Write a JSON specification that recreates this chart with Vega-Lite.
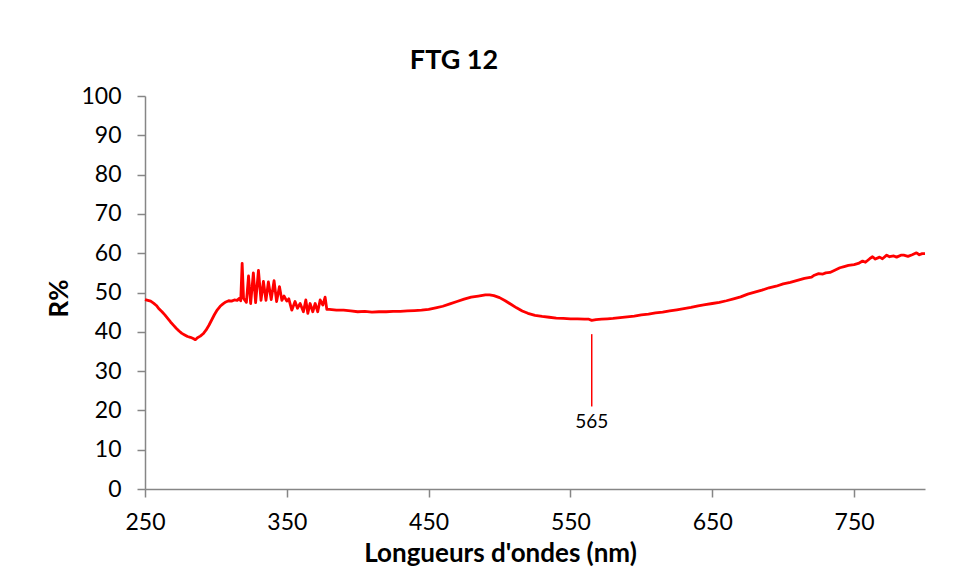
{
  "$schema": "https://vega.github.io/schema/vega-lite/v6.json",
  "autosize": "none",
  "width": 780,
  "height": 393,
  "padding": {"left": 145, "top": 96, "right": 30, "bottom": 92},
  "background": "white",
  "config": {
    "view": {"stroke": null},
    "font": "Lato",
    "axis": {
      "grid": false,
      "domainColor": "#868686",
      "domainWidth": 1.5,
      "tickColor": "#868686",
      "tickWidth": 1.5,
      "tickSize": 8,
      "labelFont": "Lato",
      "labelFontSize": 23,
      "labelColor": "#000000",
      "titleFont": "Lato",
      "titleFontSize": 26,
      "titleFontWeight": "bold",
      "titleColor": "#000000"
    }
  },
  "title": {
    "text": "FTG 12",
    "font": "Lato",
    "fontSize": 27,
    "fontWeight": "bold",
    "color": "#000000",
    "frame": "group",
    "anchor": "middle",
    "baseline": "alphabetic",
    "offset": -11,
    "dx": -81
  },
  "datasets": {
    "spectre": [
      {"nm": 250, "R": 48.2}, {"nm": 252, "R": 48.0}, {"nm": 254, "R": 47.8}, {"nm": 256, "R": 47.3},
      {"nm": 258, "R": 46.7}, {"nm": 260, "R": 45.8}, {"nm": 262, "R": 45.1}, {"nm": 264, "R": 44.3},
      {"nm": 266, "R": 43.4}, {"nm": 268, "R": 42.5}, {"nm": 270, "R": 41.7}, {"nm": 272, "R": 40.9},
      {"nm": 274, "R": 40.2}, {"nm": 276, "R": 39.6}, {"nm": 278, "R": 39.2}, {"nm": 280, "R": 38.8},
      {"nm": 282, "R": 38.6}, {"nm": 284, "R": 38.3}, {"nm": 285.5, "R": 38.0}, {"nm": 287, "R": 38.5},
      {"nm": 289, "R": 38.9}, {"nm": 291, "R": 39.5}, {"nm": 293, "R": 40.4}, {"nm": 295, "R": 41.6},
      {"nm": 297, "R": 43.0}, {"nm": 299, "R": 44.4}, {"nm": 301, "R": 45.6}, {"nm": 303, "R": 46.5},
      {"nm": 305, "R": 47.1}, {"nm": 307, "R": 47.6}, {"nm": 309, "R": 47.9}, {"nm": 311, "R": 47.8},
      {"nm": 313, "R": 48.1}, {"nm": 315, "R": 48.0}, {"nm": 316.5, "R": 48.5}, {"nm": 317.5, "R": 47.9},
      {"nm": 318.5, "R": 57.4}, {"nm": 319.5, "R": 48.5}, {"nm": 320.5, "R": 48.0}, {"nm": 321.5, "R": 47.5},
      {"nm": 323, "R": 54.2}, {"nm": 324.5, "R": 47.2}, {"nm": 326.4, "R": 55.0}, {"nm": 328, "R": 47.4},
      {"nm": 330, "R": 55.6}, {"nm": 331.8, "R": 48.0}, {"nm": 333.5, "R": 52.8}, {"nm": 335.3, "R": 48.0},
      {"nm": 337, "R": 52.7}, {"nm": 339, "R": 48.2}, {"nm": 341, "R": 53.0}, {"nm": 342.8, "R": 47.7},
      {"nm": 344.8, "R": 51.5}, {"nm": 346.5, "R": 48.0}, {"nm": 348, "R": 49.1}, {"nm": 350, "R": 47.8},
      {"nm": 351.4, "R": 48.4}, {"nm": 353.5, "R": 45.5}, {"nm": 355.8, "R": 47.7}, {"nm": 357.5, "R": 46.0},
      {"nm": 359.4, "R": 47.2}, {"nm": 361.7, "R": 45.1}, {"nm": 363.4, "R": 48.1}, {"nm": 364.8, "R": 44.7},
      {"nm": 366.4, "R": 47.2}, {"nm": 368.3, "R": 45.1}, {"nm": 370, "R": 47.2}, {"nm": 371.8, "R": 45.1},
      {"nm": 373.5, "R": 48.1}, {"nm": 375.4, "R": 46.8}, {"nm": 377, "R": 48.8}, {"nm": 378.2, "R": 45.7},
      {"nm": 380, "R": 45.7}, {"nm": 385, "R": 45.5}, {"nm": 390, "R": 45.5}, {"nm": 395, "R": 45.3},
      {"nm": 400, "R": 45.1}, {"nm": 405, "R": 45.2}, {"nm": 410, "R": 45.0}, {"nm": 415, "R": 45.1},
      {"nm": 420, "R": 45.1}, {"nm": 425, "R": 45.2}, {"nm": 430, "R": 45.2}, {"nm": 435, "R": 45.3},
      {"nm": 440, "R": 45.4}, {"nm": 445, "R": 45.5}, {"nm": 450, "R": 45.7}, {"nm": 455, "R": 46.1},
      {"nm": 460, "R": 46.5}, {"nm": 465, "R": 47.1}, {"nm": 470, "R": 47.7}, {"nm": 475, "R": 48.3},
      {"nm": 480, "R": 48.8}, {"nm": 485, "R": 49.1}, {"nm": 490, "R": 49.4}, {"nm": 493, "R": 49.4},
      {"nm": 496, "R": 49.2}, {"nm": 500, "R": 48.7}, {"nm": 504, "R": 47.9}, {"nm": 508, "R": 47.0},
      {"nm": 512, "R": 46.1}, {"nm": 516, "R": 45.3}, {"nm": 520, "R": 44.7}, {"nm": 525, "R": 44.2},
      {"nm": 530, "R": 43.9}, {"nm": 535, "R": 43.7}, {"nm": 540, "R": 43.5}, {"nm": 545, "R": 43.4},
      {"nm": 550, "R": 43.3}, {"nm": 555, "R": 43.3}, {"nm": 560, "R": 43.2}, {"nm": 563, "R": 43.2},
      {"nm": 565, "R": 42.9}, {"nm": 568, "R": 43.1}, {"nm": 572, "R": 43.2}, {"nm": 576, "R": 43.3},
      {"nm": 580, "R": 43.4}, {"nm": 585, "R": 43.6}, {"nm": 590, "R": 43.8}, {"nm": 595, "R": 44.0},
      {"nm": 600, "R": 44.3}, {"nm": 605, "R": 44.5}, {"nm": 610, "R": 44.8}, {"nm": 615, "R": 45.0},
      {"nm": 620, "R": 45.3}, {"nm": 625, "R": 45.6}, {"nm": 630, "R": 45.9}, {"nm": 635, "R": 46.2},
      {"nm": 640, "R": 46.6}, {"nm": 645, "R": 46.9}, {"nm": 650, "R": 47.2}, {"nm": 655, "R": 47.5},
      {"nm": 660, "R": 47.9}, {"nm": 665, "R": 48.4}, {"nm": 670, "R": 48.9}, {"nm": 675, "R": 49.6},
      {"nm": 680, "R": 50.1}, {"nm": 685, "R": 50.6}, {"nm": 690, "R": 51.2}, {"nm": 695, "R": 51.6},
      {"nm": 700, "R": 52.2}, {"nm": 705, "R": 52.6}, {"nm": 710, "R": 53.1}, {"nm": 715, "R": 53.6},
      {"nm": 720, "R": 53.9}, {"nm": 722, "R": 54.4}, {"nm": 725, "R": 54.8}, {"nm": 728, "R": 54.7},
      {"nm": 730, "R": 55.0}, {"nm": 733, "R": 55.1}, {"nm": 736, "R": 55.6}, {"nm": 740, "R": 56.3},
      {"nm": 743, "R": 56.6}, {"nm": 746, "R": 56.9}, {"nm": 750, "R": 57.1}, {"nm": 753, "R": 57.4},
      {"nm": 756, "R": 58.0}, {"nm": 758, "R": 57.7}, {"nm": 761, "R": 58.6}, {"nm": 763, "R": 59.1},
      {"nm": 765, "R": 58.5}, {"nm": 768, "R": 59.0}, {"nm": 770, "R": 58.6}, {"nm": 773, "R": 59.5},
      {"nm": 775, "R": 59.1}, {"nm": 778, "R": 59.3}, {"nm": 780, "R": 59.0}, {"nm": 783, "R": 59.5},
      {"nm": 785, "R": 59.5}, {"nm": 788, "R": 59.2}, {"nm": 791, "R": 59.6}, {"nm": 794, "R": 60.1},
      {"nm": 796, "R": 59.6}, {"nm": 798, "R": 59.9}, {"nm": 800, "R": 59.9}
    ],
    "repere_trait": [
      {"nm": 565, "R": 39.4, "R_bas": 21}
    ],
    "repere_texte": [
      {"nm": 565, "R": 17, "texte": "565"}
    ]
  },
  "encoding": {
    "x": {
      "field": "nm",
      "type": "quantitative",
      "scale": {"domain": [250, 800], "nice": false, "zero": false},
      "axis": {
        "values": [250, 350, 450, 550, 650, 750],
        "title": "Longueurs d'ondes (nm)",
        "labelPadding": 14,
        "labelFlush": false,
        "labelOverlap": false,
        "titleX": 355,
        "titleY": 72,
        "titleBaseline": "alphabetic",
        "titleAnchor": "middle"
      }
    },
    "y": {
      "field": "R",
      "type": "quantitative",
      "scale": {"domain": [0, 100], "nice": false},
      "axis": {
        "values": [0, 10, 20, 30, 40, 50, 60, 70, 80, 90, 100],
        "title": "R%",
        "labelPadding": 16,
        "labelFlush": false,
        "labelOverlap": false,
        "labelBound": false,
        "titleX": -78,
        "titleY": 202,
        "titleBaseline": "alphabetic",
        "titleAngle": -90,
        "titleAlign": "center"
      }
    }
  },
  "layer": [
    {
      "data": {"name": "spectre"},
      "mark": {"type": "line", "color": "#FF0000", "strokeWidth": 2.8, "strokeJoin": "round"}
    },
    {
      "data": {"name": "repere_trait"},
      "mark": {"type": "rule", "color": "#FF0000", "strokeWidth": 1.5},
      "encoding": {
        "y2": {"field": "R_bas"}
      }
    },
    {
      "data": {"name": "repere_texte"},
      "mark": {"type": "text", "font": "Lato", "fontSize": 19, "color": "#000000", "baseline": "middle", "align": "center"},
      "encoding": {
        "text": {"field": "texte"}
      }
    }
  ]
}
